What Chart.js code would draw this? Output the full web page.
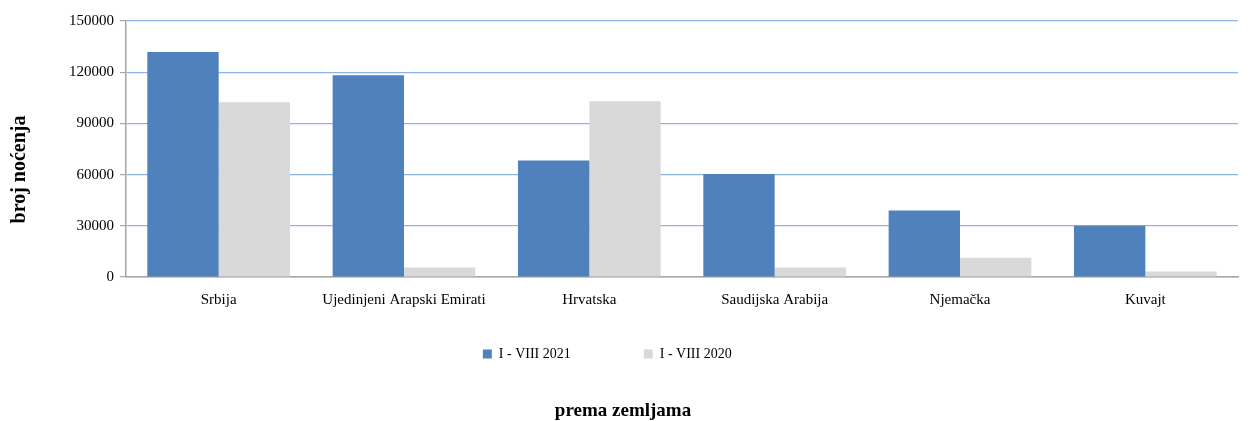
<!DOCTYPE html>
<html>
<head>
<meta charset="utf-8">
<script src="https://cdn.jsdelivr.net/npm/chart.js@4"></script>
<style>
  html, body { margin: 0; padding: 0; background: #fff; }
  #wrap { width: 1253px; height: 421px; }
</style>
</head>
<body>
<div id="wrap"><canvas id="nocenjaChart"></canvas></div>
<script>
// zemlje i broj noćenja
var zemlje = ["Srbija", "Ujedinjeni Arapski Emirati", "Hrvatska", "Saudijska Arabija", "Njemačka", "Kuvajt"];
var nocenja2021 = [131800, 118200, 68200, 60300, 38900, 30000];
var nocenja2020 = [102400, 5600, 103000, 5500, 11300, 3200];
var yTicks = [0, 30000, 60000, 90000, 120000, 150000];
var yNaslov = "broj noćenja";

var serif = "'Liberation Serif', 'DejaVu Serif', serif";
Chart.defaults.font.family = serif;
Chart.defaults.color = "#000";

// naslov y ose (u Excelu nije centriran na osi)
var yTitlePlugin = {
  id: 'yTitle',
  afterDraw: function(chart) {
    var c = chart.ctx;
    var area = chart.chartArea;
    c.save();
    c.translate(20, area.top + (area.bottom - area.top) * 0.58);
    c.rotate(-Math.PI / 2);
    c.textAlign = 'center';
    c.textBaseline = 'middle';
    c.fillStyle = '#000';
    c.font = "bold 20px " + serif;
    c.fillText(yNaslov, 0, 0);
    c.restore();
  }
};

var ctx = document.getElementById("nocenjaChart").getContext("2d");

var myBarChart = new Chart(ctx, {
  type: 'bar',
  data: {
    labels: zemlje,
    datasets: [{
      label: "I - VIII 2021",
      data: nocenja2021,
      backgroundColor: "#4f81bd",
      borderWidth: 0,
      categoryPercentage: 0.77,
      barPercentage: 1.0
    }, {
      label: "I - VIII 2020",
      data: nocenja2020,
      backgroundColor: "#d9d9d9",
      borderWidth: 0,
      categoryPercentage: 0.77,
      barPercentage: 1.0
    }]
  },
  plugins: [yTitlePlugin],
  options: {
    responsive: true,
    maintainAspectRatio: false,
    animation: false,
    layout: {
      padding: { top: 21, right: 15, left: 8, bottom: 0 }
    },
    plugins: {
      legend: {
        position: 'bottom',
        labels: {
          boxWidth: 9,
          boxHeight: 9,
          padding: 24,
          font: { size: 14 },
          generateLabels: function(chart) {
            var items = Chart.defaults.plugins.legend.labels.generateLabels(chart);
            // razmak između stavki legende
            items[0].text += "\u00a0".repeat(14);
            items[1].text += "\u00a0".repeat(9);
            return items;
          }
        }
      },
      title: {
        display: true,
        position: 'bottom',
        text: "prema zemljama",
        font: { size: 19, weight: 'bold', lineHeight: 1 },
        padding: { top: 31, bottom: 0 }
      },
      tooltip: { enabled: false }
    },
    scales: {
      x: {
        grid: { display: false, drawTicks: false },
        border: { color: "#a6a6a6", width: 1.5 },
        ticks: { font: { size: 15 }, padding: 14 }
      },
      y: {
        min: 0,
        max: 150000,
        afterBuildTicks: function(scale) {
          scale.ticks = yTicks.map(function(v) { return { value: v }; });
        },
        afterFit: function(scale) {
          scale.width = 118;
        },
        grid: {
          color: "#8eb4e3",
          lineWidth: 1.2,
          tickColor: "#a6a6a6",
          tickLength: 6
        },
        border: { color: "#a6a6a6", width: 1.5 },
        ticks: {
          font: { size: 15 },
          padding: 6,
          callback: function(value) { return String(value); }
        }
      }
    }
  }
});
</script>
</body>
</html>
